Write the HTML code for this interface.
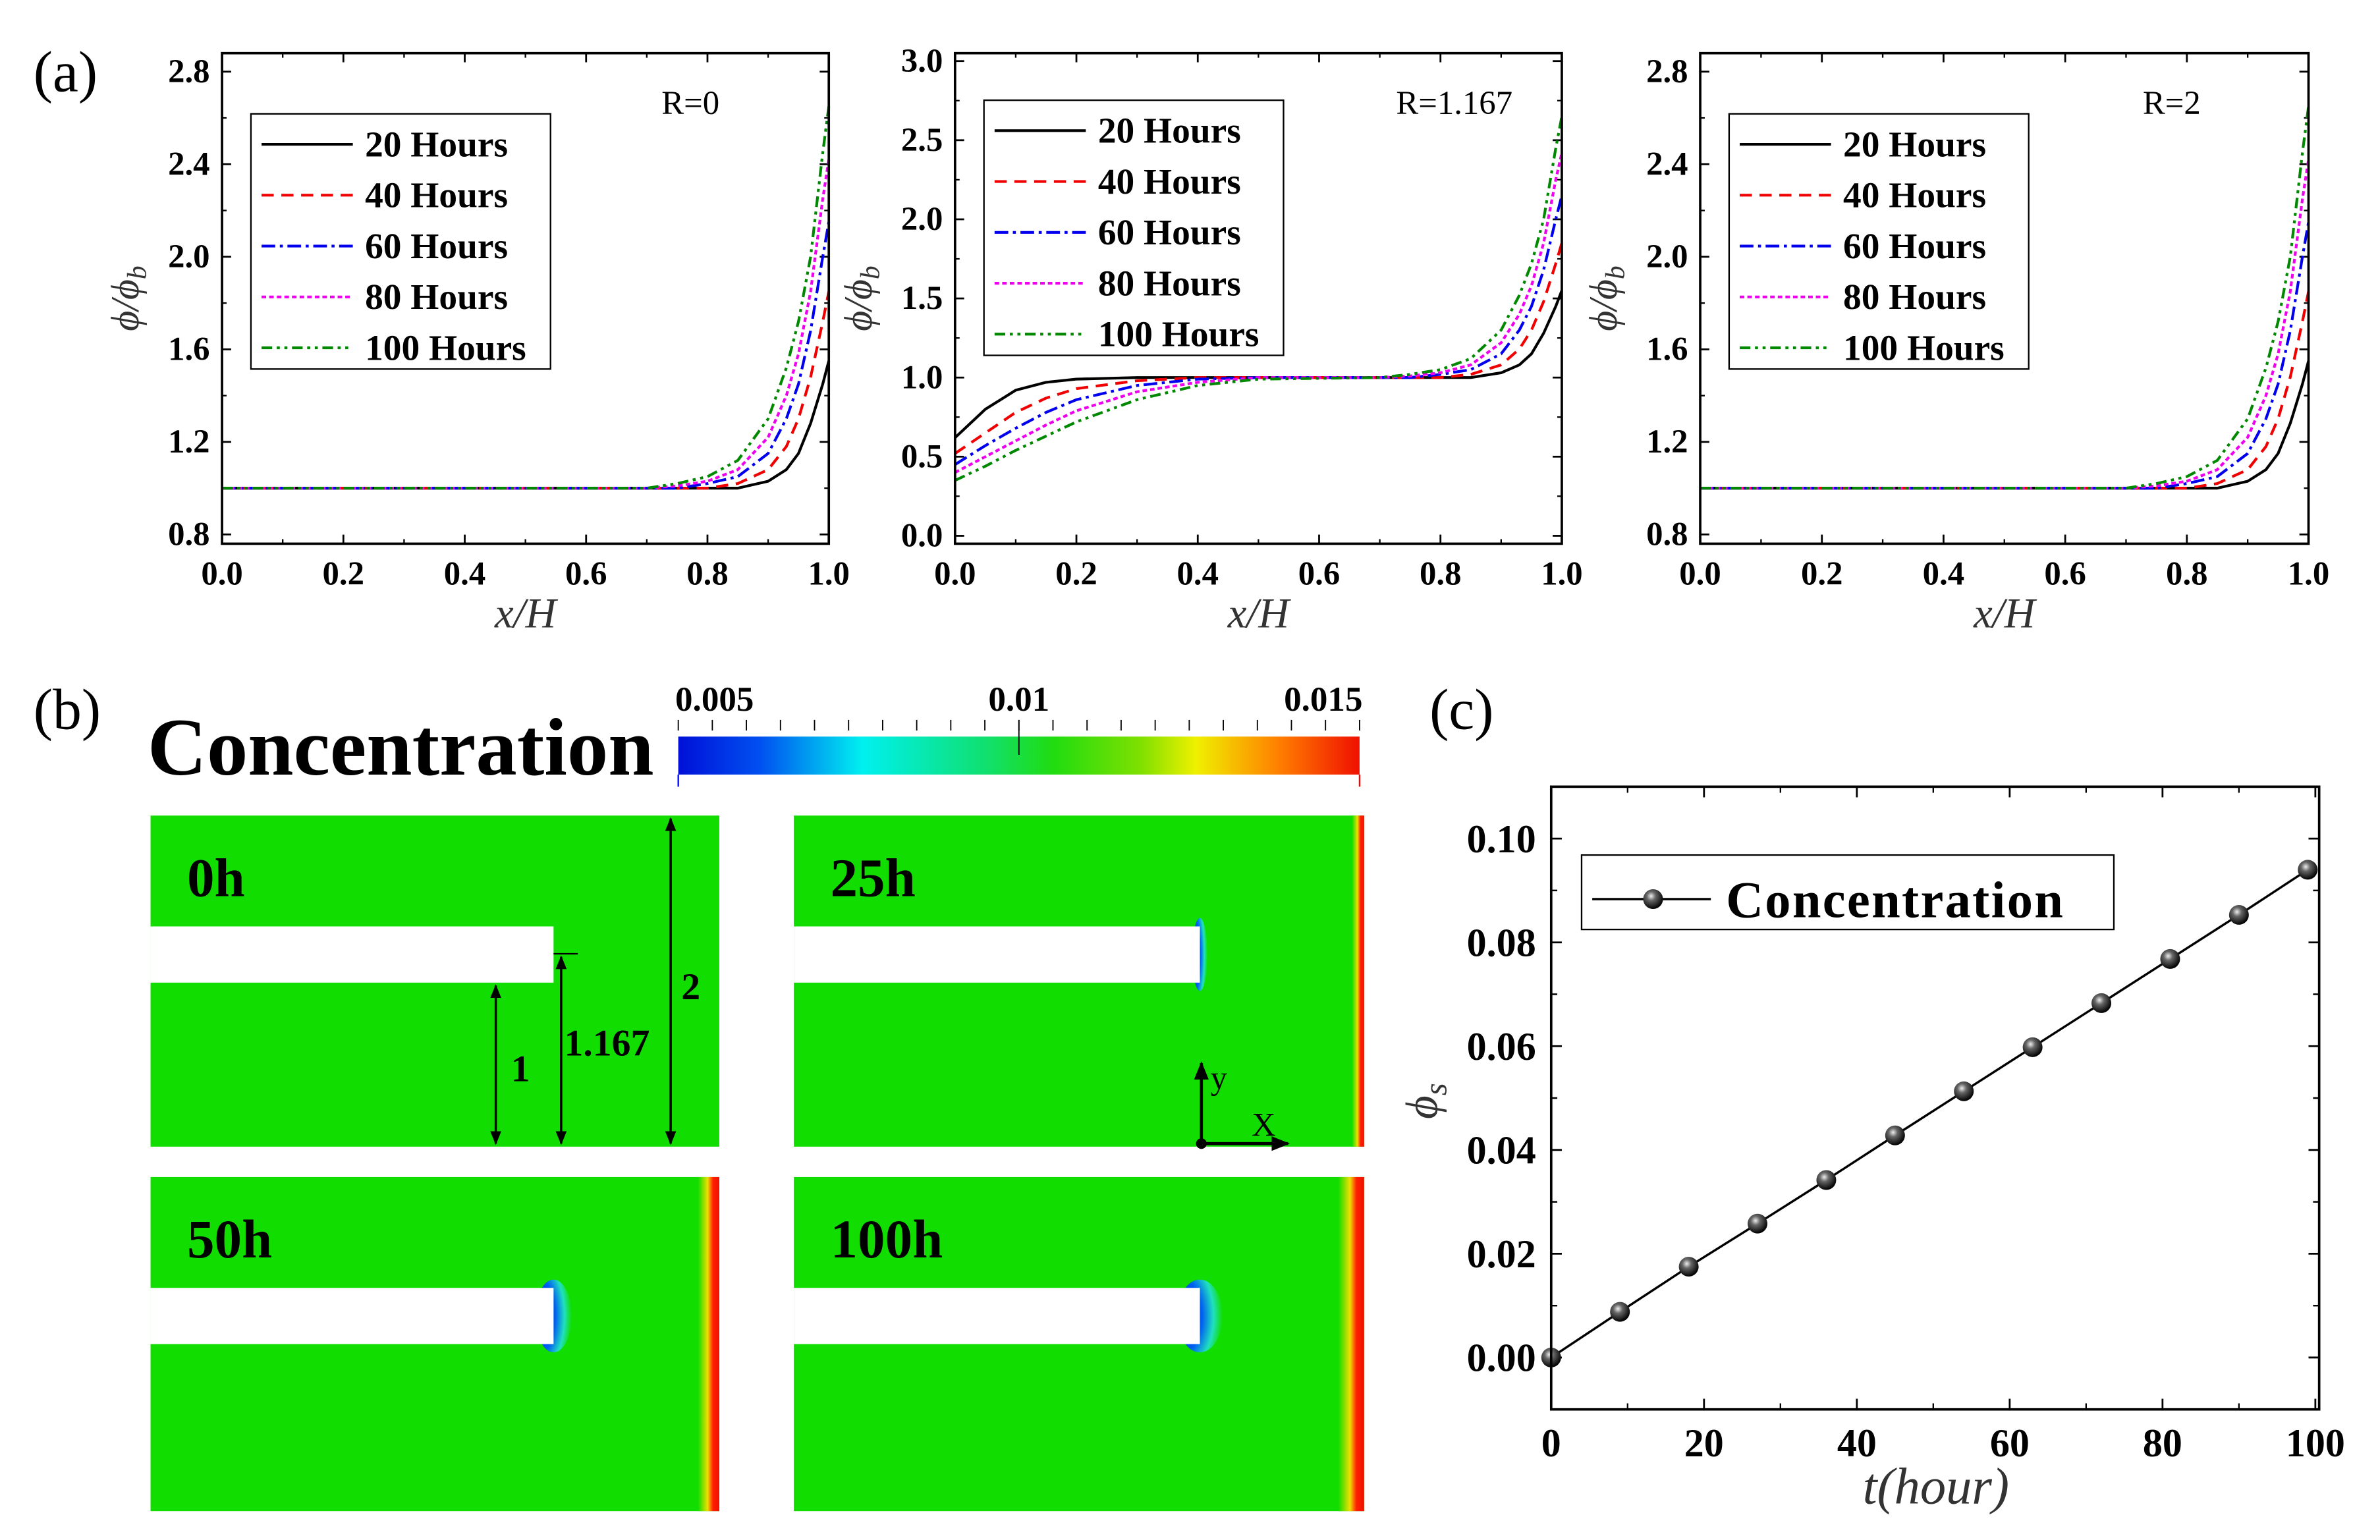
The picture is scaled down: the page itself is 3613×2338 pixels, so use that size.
<!DOCTYPE html>
<html><head><meta charset="utf-8"><style>
html,body{margin:0;padding:0;background:#fff}
svg{display:block}
text{font-family:"Liberation Serif",serif}
</style></head><body>
<svg id="fig" xmlns="http://www.w3.org/2000/svg" width="3613" height="2338" viewBox="0 0 1565 1014" preserveAspectRatio="none">
<defs>
<linearGradient id="jet" x1="0" x2="1" y1="0" y2="0">
<stop offset="0" stop-color="#0010d8"/><stop offset="0.12" stop-color="#0050f0"/><stop offset="0.27" stop-color="#00f0f0"/><stop offset="0.45" stop-color="#10e070"/><stop offset="0.55" stop-color="#20dc10"/><stop offset="0.68" stop-color="#80e000"/><stop offset="0.76" stop-color="#f0f000"/><stop offset="0.88" stop-color="#ff8000"/><stop offset="1" stop-color="#f01000"/>
</linearGradient>
<linearGradient id="edge" x1="0" x2="1"><stop offset="0" stop-color="#11dd00"/><stop offset="0.45" stop-color="#f0e000"/><stop offset="0.7" stop-color="#ff2000"/><stop offset="1" stop-color="#ee1000"/></linearGradient>
<radialGradient id="cap" cx="0" cy="0.5" r="1"><stop offset="0" stop-color="#0010d8"/><stop offset="0.55" stop-color="#0060f0"/><stop offset="0.8" stop-color="#20e0c0"/><stop offset="1" stop-color="#11dd00"/></radialGradient>
<marker id="arr" viewBox="0 0 10 10" refX="9" refY="5" markerWidth="6" markerHeight="6" orient="auto-start-reverse"><path d="M0,1 L10,5 L0,9 z" fill="#000"/></marker>
<radialGradient id="ball" cx="0.4" cy="0.35" r="0.65"><stop offset="0" stop-color="#eee"/><stop offset="0.35" stop-color="#666"/><stop offset="1" stop-color="#000"/></radialGradient>
</defs>
<g id="root"></g>
</svg>
<script>
// ===== Panel (a) data =====
const xA = [0,0.5,0.7,0.75,0.8,0.85,0.9,0.93,0.95,0.97,0.99,1.0];
const a_h20 = [1,1,1,1,1,1.0,1.03,1.08,1.15,1.28,1.45,1.55];
const a_h40 = [1,1,1,1,1.0,1.02,1.08,1.18,1.3,1.48,1.72,1.85];
const a_h60 = [1,1,1,1,1.02,1.05,1.15,1.3,1.45,1.68,2.0,2.15];
const a_h80 = [1,1,1,1.01,1.03,1.08,1.22,1.4,1.58,1.85,2.25,2.42];
const a_h100 = [1,1,1,1.02,1.05,1.12,1.3,1.52,1.72,2.0,2.45,2.65];
const xB = [0,0.05,0.1,0.15,0.2,0.3,0.4,0.5,0.7,0.75,0.8,0.85,0.9,0.93,0.95,0.97,0.99,1.0];
const b_h20 = [.62,.8,.92,.97,.99,1,1,1,1,1,1,1,1.03,1.08,1.15,1.28,1.45,1.55];
const b_h40 = [.52,.65,.78,.87,.93,.98,1,1,1,1,1,1.02,1.08,1.18,1.3,1.48,1.72,1.85];
const b_h60 = [.45,.57,.68,.78,.86,.95,.99,1,1,1,1.02,1.05,1.15,1.3,1.45,1.68,2,2.15];
const b_h80 = [.4,.5,.6,.7,.79,.91,.97,1,1,1.01,1.03,1.08,1.22,1.4,1.58,1.85,2.25,2.42];
const b_h100 = [.35,.44,.54,.63,.72,.86,.95,.99,1,1.02,1.05,1.12,1.3,1.52,1.72,2,2.45,2.65];
const seriesNames = ["20 Hours","40 Hours","60 Hours","80 Hours","100 Hours"];
const xTicksA = ["0.0","0.2","0.4","0.6","0.8","1.0"];
const yTicksA1 = ["0.8","1.2","1.6","2.0","2.4","2.8"];
const yTicksA2 = ["0.0","0.5","1.0","1.5","2.0","2.5","3.0"];
// ===== Panel (c) data =====
const tHours = [0,9,18,27,36,45,54,63,72,81,90,99];
const phiS = [0,0.0088,0.0175,0.0258,0.0342,0.0428,0.0513,0.0598,0.0683,0.0768,0.0853,0.094];
const xTicksC = ["0","20","40","60","80","100"];
const yTicksC = ["0.00","0.02","0.04","0.06","0.08","0.10"];
const cbarTicks = ["0.005","0.01","0.015"];

const NS="http://www.w3.org/2000/svg";
const root=document.getElementById('root');
function mk(tag,attrs,parent,txt){const e=document.createElementNS(NS,tag);for(const k in attrs)e.setAttribute(k,attrs[k]);if(txt!==undefined)e.textContent=txt;(parent||root).appendChild(e);return e;}
const styles=[{c:"#000",d:""},{c:"#f00000",d:"8,5"},{c:"#0000ee",d:"9,3,2,3"},{c:"#ee00ee",d:"3,2"},{c:"#008800",d:"7,3,2,3,2,3"}];

function panelA(px,py,w,h,ymin,ymax,yt,xs,sets,rlabel,rx,legY){
  const g=mk('g',{});
  
  
  const X=v=>px+v*w, Y=v=>py+h-(v-ymin)/(ymax-ymin)*h;
  xTicksA.forEach((t,i)=>{const v=parseFloat(t);
    mk('line',{x1:X(v),x2:X(v),y1:py+h,y2:py+h-6,stroke:'#000','stroke-width':1.2},g);
    mk('line',{x1:X(v),x2:X(v),y1:py,y2:py+6,stroke:'#000','stroke-width':1.2},g);
    if(i<5){const m=v+0.1;mk('line',{x1:X(m),x2:X(m),y1:py+h,y2:py+h-3,stroke:'#000'},g);mk('line',{x1:X(m),x2:X(m),y1:py,y2:py+3,stroke:'#000'},g);}
    const tx=mk('text',{x:X(v),y:py+h+27,'text-anchor':'middle','font-size':22,'font-weight':'bold'},g,t);
    
    
  });
  const step=parseFloat(yt[1])-parseFloat(yt[0]);
  yt.forEach((t,i)=>{const v=parseFloat(t);
    mk('line',{x1:px,x2:px+6,y1:Y(v),y2:Y(v),stroke:'#000','stroke-width':1.2},g);
    mk('line',{x1:px+w,x2:px+w-6,y1:Y(v),y2:Y(v),stroke:'#000','stroke-width':1.2},g);
    const m=v+step/2; if(m<ymax){mk('line',{x1:px,x2:px+3,y1:Y(m),y2:Y(m),stroke:'#000'},g);mk('line',{x1:px+w,x2:px+w-3,y1:Y(m),y2:Y(m),stroke:'#000'},g);}
    const ty=mk('text',{x:px-8,y:Y(v)+7,'text-anchor':'end','font-size':22,'font-weight':'bold'},g,t);
    
    
  });
  sets.forEach((ys,si)=>{
    const d=xs.map((x,i)=>(i?'L':'M')+X(x).toFixed(2)+','+Y(ys[i]).toFixed(2)).join(' ');
    const p=mk('path',{d:d,fill:'none',stroke:styles[si].c,'stroke-width':1.8,'stroke-dasharray':styles[si].d,'stroke-linejoin':'round'},g);
    
    
  });
  mk('rect',{x:px,y:py,width:w,height:h,fill:'none',stroke:'#000','stroke-width':1.6},g);
  const lg=mk('g',{},g);
  
  
  mk('rect',{x:px+19,y:legY,width:197,height:168,fill:'#fff',stroke:'#000','stroke-width':1},lg);
  seriesNames.forEach((n,i)=>{const yy=legY+20+i*33.5;
    mk('line',{x1:px+26,x2:px+86,y1:yy,y2:yy,stroke:styles[i].c,'stroke-width':1.8,'stroke-dasharray':styles[i].d},lg);
    const t=mk('text',{x:px+94,y:yy+8,'font-size':24,'font-weight':'bold'},lg,n);
    
    
  });
  const r=mk('text',{x:rx,y:py+40,'font-size':22},g,rlabel);
  
  
  const yl=mk('text',{x:0,y:0,'font-size':26,'font-style':'italic',transform:`translate(${px-55},${py+h/2}) rotate(-90)`,'text-anchor':'middle',fill:'#333'},g);
  yl.innerHTML='ϕ/ϕ<tspan font-size="18" dy="5">b</tspan>';
  
  
  const xl=mk('text',{x:px+w/2,y:py+h+55,'text-anchor':'middle','font-size':28,'font-style':'italic',fill:'#333'},g,'x/H');
  
  
}
panelA(146,35,399,323,0.76,2.88,yTicksA1,xA,[a_h20,a_h40,a_h60,a_h80,a_h100],"R=0",435,75);
panelA(628,35,399,323,-0.05,3.05,yTicksA2,xB,[b_h20,b_h40,b_h60,b_h80,b_h100],"R=1.167",918,66);
panelA(1118,35,400,323,0.76,2.88,yTicksA1,xA,[a_h20,a_h40,a_h60,a_h80,a_h100],"R=2",1409,75);
let t=mk('text',{x:22,y:60,'font-size':38},root,'(a)');


// ===== Panel (b) =====
t=mk('text',{x:22,y:480,'font-size':38},root,'(b)');

t=mk('text',{x:97,y:510,'font-size':54,'font-weight':'bold'},root,'Concentration');

const cb=mk('rect',{x:446,y:485,width:448,height:25,fill:'url(#jet)'});

const cbX=v=>446+(v-0.005)/0.01*448;
for(let i=0;i<=20;i++){const x=446+i*448/20;mk('line',{x1:x,x2:x,y1:474,y2:481,stroke:'#000','stroke-width':0.8});}
mk('line',{x1:cbX(0.01),x2:cbX(0.01),y1:474,y2:497,stroke:'#000','stroke-width':0.8});
mk('line',{x1:446,x2:446,y1:510,y2:518,stroke:'#00f'});mk('line',{x1:894,x2:894,y1:510,y2:518,stroke:'#f00'});
cbarTicks.forEach((s,i)=>{const v=parseFloat(s);const x=cbX(v);
  const tt=mk('text',{x:i==0?x-2:(i==2?x+2:x),y:468,'font-size':23,'font-weight':'bold','text-anchor':i==0?'start':(i==2?'end':'middle')},root,s);
  });
const panels=[{x:99,y:537,lab:'0h',edge:0,cap:0},{x:522,y:537,lab:'25h',edge:8,cap:5},{x:99,y:775,lab:'50h',edge:14,cap:12},{x:522,y:775,lab:'100h',edge:17,cap:15}];
panels.forEach(p=>{
  const g=mk('g',{});
  
  
  const w=p.x==99?374:375,h=p.y==537?218:220;
  mk('rect',{x:p.x,y:p.y,width:w,height:h,fill:'#11dd00'},g);
  if(p.edge)mk('rect',{x:p.x+w-p.edge,y:p.y,width:p.edge,height:h,fill:'url(#edge)'},g);
  const sy=p.y+73,sx=p.x+(p.x==99?265:267);
  if(p.cap)mk('ellipse',{cx:sx,cy:sy+18.5,rx:p.cap,ry:24,fill:'url(#cap)'},g);
  mk('rect',{x:p.x,y:sy,width:sx-p.x,height:37,fill:'#fff'},g);
  mk('text',{x:p.x+24,y:p.y+53,'font-size':36,'font-weight':'bold'},g,p.lab);
});
[[326,647],[369,628],[441,537]].forEach(a=>{mk('line',{x1:a[0],x2:a[0],y1:753,y2:a[1]+2,stroke:'#000','stroke-width':1.5,'marker-end':'url(#arr)','marker-start':'url(#arr)'});});
mk('line',{x1:364,x2:380,y1:628,y2:628,stroke:'#000'});
[['1',336,712],['1.167',371,695],['2',448,658]].forEach(a=>{const tt=mk('text',{x:a[1],y:a[2],'font-size':25,'font-weight':'bold'},root,a[0]);});
mk('line',{x1:790,x2:790,y1:753,y2:700,stroke:'#000','stroke-width':2,'marker-end':'url(#arr)'});
mk('line',{x1:790,x2:847,y1:753,y2:753,stroke:'#000','stroke-width':2,'marker-end':'url(#arr)'});
mk('circle',{cx:790,cy:753,r:3.5,fill:'#000'});
mk('text',{x:796,y:717,'font-size':22},root,'y');mk('text',{x:823,y:748,'font-size':22},root,'X');

// ===== Panel (c) =====
t=mk('text',{x:940,y:480,'font-size':38},root,'(c)');

(function(){
  const px=1020,py=518,w=505,h=410,ymin=-0.01,ymax=0.11;
  const X=v=>px+v/100.5*w*1.0, Y=v=>py+h-(v-ymin)/(ymax-ymin)*h;
  const g=mk('g',{});
  
  
  xTicksC.forEach((s,i)=>{const v=+s;
    mk('line',{x1:X(v),x2:X(v),y1:py+h,y2:py+h-7,stroke:'#000','stroke-width':1.2},g);
    mk('line',{x1:X(v),x2:X(v),y1:py,y2:py+7,stroke:'#000','stroke-width':1.2},g);
    if(i<5){mk('line',{x1:X(v+10),x2:X(v+10),y1:py+h,y2:py+h-4,stroke:'#000'},g);mk('line',{x1:X(v+10),x2:X(v+10),y1:py,y2:py+4,stroke:'#000'},g);}
    const tt=mk('text',{x:X(v),y:py+h+31,'text-anchor':'middle','font-size':26,'font-weight':'bold'},g,s);
    });
  yTicksC.forEach((s,i)=>{const v=+s;
    mk('line',{x1:px,x2:px+7,y1:Y(v),y2:Y(v),stroke:'#000','stroke-width':1.2},g);
    mk('line',{x1:px+w,x2:px+w-7,y1:Y(v),y2:Y(v),stroke:'#000','stroke-width':1.2},g);
    [v-0.01,v+0.01].forEach(m=>{if(m>ymin&&m<ymax){mk('line',{x1:px,x2:px+4,y1:Y(m),y2:Y(m),stroke:'#000'},g);mk('line',{x1:px+w,x2:px+w-4,y1:Y(m),y2:Y(m),stroke:'#000'},g);}});
    const tt=mk('text',{x:px-10,y:Y(v)+9,'text-anchor':'end','font-size':26,'font-weight':'bold'},g,s);
    });
  const ln=mk('path',{d:tHours.map((x,i)=>(i?'L':'M')+X(x)+','+Y(phiS[i])).join(' '),fill:'none',stroke:'#000','stroke-width':1.5},g);
  
  tHours.forEach((x,i)=>{const c=mk('circle',{cx:X(x),cy:Y(phiS[i]),r:6.5,fill:'url(#ball)'},g);
    });
  mk('rect',{x:px,y:py,width:w,height:h,fill:'none',stroke:'#000','stroke-width':1.6},g);
  const lg=mk('g',{},g);
  
  mk('rect',{x:1040,y:563,width:350,height:49,fill:'#fff',stroke:'#000','stroke-width':1},lg);
  mk('line',{x1:1047,x2:1125,y1:592,y2:592,stroke:'#000','stroke-width':1.5},lg);
  mk('circle',{cx:1087,cy:592,r:6.5,fill:'url(#ball)'},lg);
  mk('text',{x:1135,y:604,'font-size':34,'font-weight':'bold','letter-spacing':'1'},lg,'Concentration');
  const yl=mk('text',{x:0,y:0,'font-size':30,'font-style':'italic',transform:'translate(945,725) rotate(-90)','text-anchor':'middle',fill:'#333'},g);
  yl.innerHTML='ϕ<tspan font-size="21" dy="6">s</tspan>';
  
  const xl=mk('text',{x:1273,y:990,'text-anchor':'middle','font-size':34,'font-style':'italic',fill:'#333'},g,'t(hour)');
  
})();
</script>
</body></html>
